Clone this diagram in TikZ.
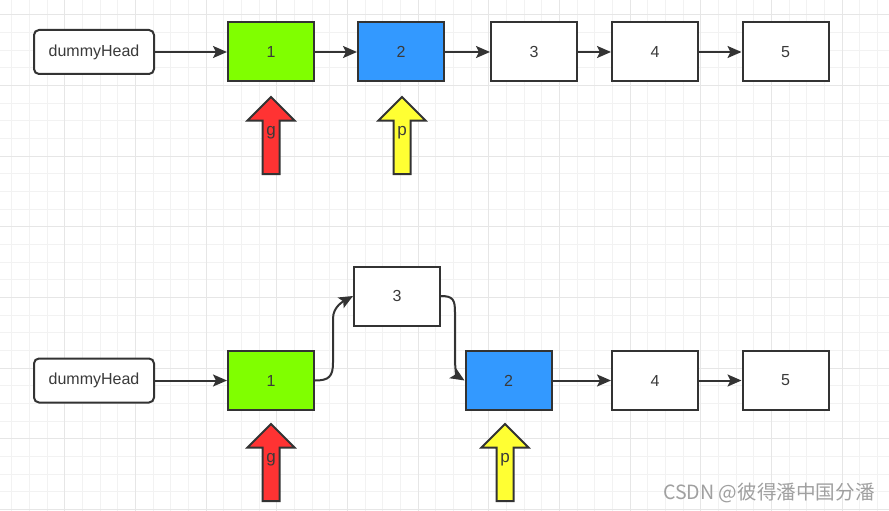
\documentclass[tikz,border=0pt]{standalone}
\usepackage{fontspec}
\setmainfont{Liberation Sans}
\newfontfamily\cjkfont{Noto Sans CJK SC}
\usetikzlibrary{arrows.meta}
\definecolor{ink}{HTML}{333333}
\definecolor{txt}{HTML}{3A3A3A}
\definecolor{gridminor}{HTML}{F2F2F2}
\definecolor{gridmajor}{HTML}{E6E6E6}
\definecolor{nodegreen}{HTML}{80FF00}
\definecolor{nodeblue}{HTML}{3399FF}
\definecolor{ptrred}{HTML}{FF3333}
\definecolor{ptryellow}{HTML}{FFFF33}
\definecolor{wmgray}{HTML}{A0A0A0}
\tikzset{
  listbox/.style={draw=ink, line width=2pt, minimum width=86pt, minimum height=59pt, inner sep=0pt, fill=white, text=txt},
  headbox/.style={draw=ink, line width=2pt, rounded corners=5pt, minimum width=120pt, minimum height=44pt, inner sep=0pt, fill=white, text=txt},
  edge/.style={draw=ink, line width=2pt, -{Stealth[length=14pt,width=12pt,inset=3pt]}},
  ptr/.style={draw=ink, line width=2pt, line join=miter},
  lbl/.style={inner sep=0pt, text=txt, font=\fontsize{17}{20}\selectfont},
  gridline/.style={line width=0.8pt},
}
\newcommand\ptrarrow[5]{%
  \filldraw[ptr, fill=#4] (#2,#3) -- ({#2+23.5},{#3+23.5}) -- ({#2+8.5},{#3+23.5}) -- ({#2+8.5},{#3+77}) -- ({#2-8.5},{#3+77}) -- ({#2-8.5},{#3+23.5}) -- ({#2-23.5},{#3+23.5}) -- cycle;
  \node[lbl] (#1) at (#2,{#3+36}) {#5};}
\begin{document}
\begin{tikzpicture}[x=1pt,y=-1pt,font=\fontsize{16}{19}\selectfont]
\useasboundingbox[fill=white] (0,0) rectangle (889,511);
% grid
\foreach \i in {-3,...,46} {\draw[gridminor, gridline] ({64.6+17.667*\i},0) -- ++(0,511);}
\foreach \j in {-12,...,16} {\draw[gridminor, gridline] (0,{226.7+17.667*\j}) -- ++(889,0);}
\foreach \i in {0,...,11} {\draw[gridmajor, gridline] ({64.6+70.667*\i},0) -- ++(0,511);}
\foreach \j in {-3,...,4} {\draw[gridmajor, gridline] (0,{226.7+70.667*\j}) -- ++(889,0);}
% top row
\node[headbox] (dha) at (94,52) {dummyHead};
\node[listbox, fill=nodegreen] (a1) at (271,52) {1};
\node[listbox, fill=nodeblue] (a2) at (401,52) {2};
\node[listbox] (a3) at (534,52) {3};
\node[listbox] (a4) at (655,52) {4};
\node[listbox] (a5) at (785.5,52) {5};
\draw[edge] (dha) -- (a1);
\draw[edge] (a1) -- (a2);
\draw[edge] (a2) -- (a3);
\draw[edge] (a3) -- (a4);
\draw[edge] (a4) -- (a5);
\ptrarrow{ga}{271}{97}{ptrred}{g}
\ptrarrow{pa}{402}{97}{ptryellow}{p}
% bottom row
\node[headbox] (dhb) at (94,380.5) {dummyHead};
\node[listbox, fill=nodegreen] (b1) at (271,380.5) {1};
\node[listbox] (b3) at (397,296) {3};
\node[listbox, fill=nodeblue] (b2) at (508.5,380.5) {2};
\node[listbox] (b4) at (655,380.5) {4};
\node[listbox] (b5) at (785.5,380.5) {5};
\draw[edge] (dhb) -- (b1);
\draw[edge] (b1.east) .. controls +(14,0) and +(0,14) .. ++(18,-18) -- ++(0,-44) .. controls +(0,-12) and +(-9,5) .. (b3.west);
\draw[edge] (b3.east) .. controls +(12,0) and +(0,-12) .. ++(14,16) -- ++(0,44) .. controls +(0,14) and +(-8,-5) .. (b2.west);
\draw[edge] (b2) -- (b4);
\draw[edge] (b4) -- (b5);
\ptrarrow{gb}{271}{424}{ptrred}{g}
\ptrarrow{pb}{505}{424}{ptryellow}{p}
% watermark
\node[anchor=west, inner sep=0pt, text=wmgray, font=\fontsize{19.6}{22}\cjkfont] (wm) at (663,493) {CSDN @彼得潘中国分潘};
\end{tikzpicture}
\end{document}
